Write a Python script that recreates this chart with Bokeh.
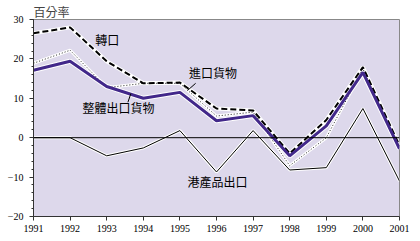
from bokeh.plotting import figure
from bokeh.models import Range1d, Label, Span, FixedTicker, Segment, ColumnDataSource
from bokeh.embed import file_html
from bokeh.resources import INLINE

years = [1991, 1992, 1993, 1994, 1995, 1996, 1997, 1998, 1999, 2000, 2001]
re_exports = [26.5, 28.0, 19.4, 13.8, 14.0, 7.4, 6.9, -4.0, 4.5, 17.9, -2.0]
total_exports = [17.1, 19.4, 13.0, 10.0, 11.5, 4.3, 5.6, -4.6, 3.0, 16.6, -2.8]
imports = [18.9, 22.2, 12.7, 13.8, 13.8, 5.5, 6.5, -7.1, 0.0, 17.5, -3.0]
domestic_exports = [0.0, 0.0, -4.6, -2.6, 1.8, -8.7, 1.8, -8.2, -7.6, 7.4, -11.0]
y_ticks = [-20, -10, 0, 10, 20, 30]

cjk = "Noto Sans CJK TC"

p = figure(width=420, height=241, output_backend="svg", toolbar_location=None,
           x_range=Range1d(1991, 2001), y_range=Range1d(-20, 30),
           min_border_left=33, min_border_right=21, min_border_top=19, min_border_bottom=25,
           title="百分率")
p.title.text_font = cjk
p.title.text_font_size = "12px"
p.title.text_font_style = "normal"
p.title.align = "left"
p.title.standoff = 0
p.title.offset = 0
p.background_fill_color = "#DDD8EB"
p.border_fill_color = "white"
p.outline_line_color = "#888888"
p.grid.visible = False

p.xaxis.ticker = FixedTicker(ticks=years)
p.yaxis.ticker = FixedTicker(ticks=y_ticks, minor_ticks=[v for v in range(-20, 31, 2)])
for ax in (p.xaxis, p.yaxis):
    ax.major_label_text_font = "Liberation Serif"
    ax.major_label_text_font_size = "10px"
    ax.major_label_text_color = "black"
    ax.axis_line_color = "#333333"
    ax.major_tick_line_color = "#333333"
    ax.minor_tick_line_color = "#333333"
    ax.major_tick_out = 4
    ax.major_tick_in = 0
    ax.minor_tick_out = 2
    ax.minor_tick_in = 0
p.xaxis.minor_tick_line_color = None
p.yaxis.major_label_standoff = 6
p.xaxis.major_label_standoff = 4

p.add_layout(Span(location=0, dimension="width", line_color="black", line_width=1))

# white halos
p.line(years, domestic_exports, line_color="white", line_width=3)
p.line(years, imports, line_color="white", line_width=3)
p.line(years, re_exports, line_color="white", line_width=4)
p.line(years, total_exports, line_color="white", line_width=5)

p.line(years, domestic_exports, line_color="black", line_width=1)
p.line(years, imports, line_color="#222222", line_width=1, line_dash="1 2")
p.line(years, re_exports, line_color="black", line_width=2, line_dash="6 3")
p.line(years, total_exports, line_color="#42288A", line_width=3)

def lab(x, y, t, base="middle"):
    p.add_layout(Label(x=x, y=y, text=t, text_font=cjk, text_font_size="12px",
                       text_color="black", text_baseline=base, text_align="left"))

lab(1992.69, 25.0, "轉口")
lab(1995.25, 16.6, "進口貨物")
lab(1992.34, 7.6, "整體出口貨物")
lab(1995.21, -11.2, "港產品出口")

src = ColumnDataSource(dict(x0=[1995.21, 1993.58], y0=[12.0, 9.0], x1=[1995.43, 1993.66], y1=[13.8, 11.2]))
p.add_glyph(src, Segment(x0="x0", y0="y0", x1="x1", y1="y1", line_color="black", line_width=1))

open("out.html", "w").write(file_html(p, INLINE))
